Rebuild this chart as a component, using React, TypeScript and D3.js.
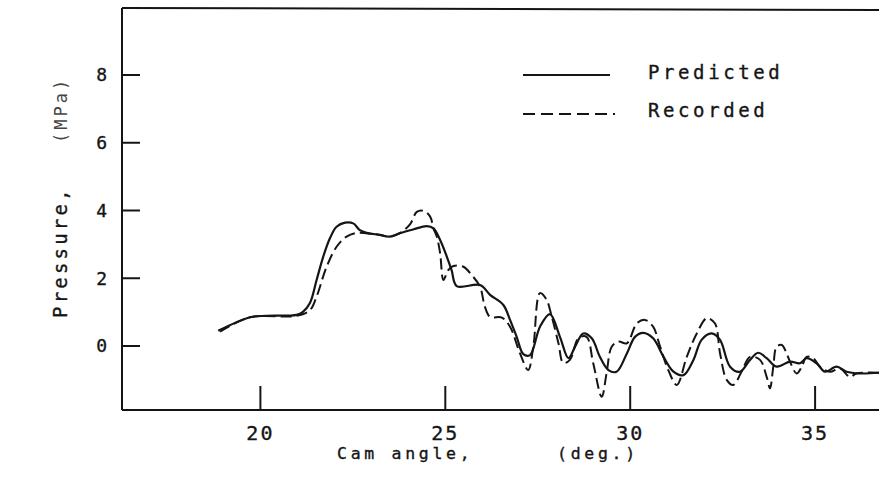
import React from 'react';
import * as d3 from 'd3';

// values
const xTickValues = [20, 25, 30, 35];
const yTickValues = [0, 2, 4, 6, 8];

const predictedAngle = [
  18.86, 19.72, 20.17, 20.98, 21.15, 21.34, 21.52, 21.7, 21.88, 22.06, 22.29, 22.51, 22.69, 22.87,
  23.23, 23.5, 23.77, 24.13, 24.5, 24.68, 24.86, 25.04, 25.17, 25.31, 25.94, 26.21, 26.57, 26.75,
  26.93, 27.11, 27.29, 27.56, 27.83, 28.1, 28.33, 28.51, 28.73, 28.96, 29.18, 29.41, 29.63, 29.91,
  30.13, 30.35, 30.62, 30.9, 31.17, 31.44, 31.71, 31.93, 32.2, 32.43, 32.7, 32.97, 33.24, 33.46,
  33.69, 33.96, 34.32, 34.59, 34.77, 35.04, 35.27, 35.58, 35.85, 36.21, 36.73,
];
const predictedPressure = [
  0.45, 0.85, 0.89, 0.92, 1.01, 1.27, 1.95, 2.64, 3.18, 3.52, 3.64, 3.62, 3.42, 3.34,
  3.28, 3.23, 3.33, 3.44, 3.54, 3.47, 3.13, 2.64, 2.24, 1.77, 1.8, 1.51, 1.21, 0.77,
  0.27, -0.24, -0.27, 0.57, 0.94, 0.27, -0.36, -0.02, 0.37, 0.23, -0.32, -0.71, -0.76, -0.22,
  0.27, 0.39, 0.23, -0.32, -0.76, -0.86, -0.41, 0.18, 0.37, 0.18, -0.61, -0.76, -0.41, -0.2,
  -0.36, -0.61, -0.46, -0.51, -0.36, -0.51, -0.76, -0.61, -0.76, -0.81, -0.79,
];

const recordedAngle = [
  18.91, 19.72, 20.98, 21.34, 21.52, 21.79, 22.06, 22.33, 22.6, 22.87, 23.23, 23.5, 23.77, 24.05,
  24.23, 24.41, 24.59, 24.68, 24.77, 24.86, 24.95, 25.08, 25.22, 25.49, 25.71, 25.94, 26.07, 26.21,
  26.53, 26.75, 27.02, 27.24, 27.38, 27.56, 27.74, 27.88, 28.06, 28.19, 28.37, 28.6, 28.82, 29.0,
  29.23, 29.36, 29.5, 29.68, 29.91, 30.18, 30.4, 30.62, 30.81, 31.03, 31.26, 31.53, 31.8, 32.07,
  32.29, 32.43, 32.61, 32.79, 33.01, 33.24, 33.51, 33.69, 33.78, 33.87, 33.96, 34.1, 34.23, 34.32,
  34.5, 34.64, 34.77, 34.95, 35.13, 35.4, 35.67, 35.94, 36.12, 36.73,
];
const recordedPressure = [
  0.42, 0.85, 0.89, 1.06, 1.46, 2.34, 2.93, 3.23, 3.34, 3.33, 3.28, 3.23, 3.33, 3.6,
  3.96, 3.99, 3.82, 3.47, 3.23, 2.74, 1.95, 2.24, 2.36, 2.34, 2.1, 1.75, 1.16, 0.86,
  0.84, 0.57, -0.22, -0.71, -0.02, 1.56, 1.36, 0.86, 0.08, -0.5, -0.41, 0.23, 0.27, -0.51,
  -1.5, -0.81, -0.02, 0.13, 0.08, 0.67, 0.77, 0.57, -0.02, -0.71, -1.15, -0.32, 0.37, 0.82,
  0.67, -0.22, -1.0, -1.15, -0.76, -0.32, -0.41, -0.91, -1.25, -0.61, -0.02, 0.03, -0.22, -0.46,
  -0.81, -0.61, -0.32, -0.36, -0.61, -0.76, -0.66, -0.91, -0.81, -0.79,
];

const legendLabels = ['Predicted', 'Recorded'];

const ink = '#151515';
const mono = "'DejaVu Sans Mono', 'Liberation Mono', monospace";

export default function App() {
  const width = 879;
  const height = 480;
  // frame of the plot (left axis, top rule, bottom axis)
  const frame = { left: 122, top: 9, bottom: 410, right: 879 };

  const x = d3.scaleLinear().domain([20, 35]).range([260.4, 815.1]);
  const y = d3.scaleLinear().domain([0, 8]).range([346, 75]);

  const line = d3
    .line<[number, number]>()
    .x((d) => x(d[0]))
    .y((d) => y(d[1]))
    .curve(d3.curveCatmullRom.alpha(0.5));

  const predicted = predictedAngle.map((a, i) => [a, predictedPressure[i]] as [number, number]);
  const recorded = recordedAngle.map((a, i) => [a, recordedPressure[i]] as [number, number]);

  return (
    <svg
      width={width}
      height={height}
      style={{ position: 'absolute', left: 0, top: 0, background: '#fff' }}
    >
      <rect width={width} height={height} fill="#fff" />

      {/* frame */}
      <g stroke={ink} strokeWidth={2} fill="none">
        <line x1={frame.left} y1={frame.top - 1} x2={frame.right} y2={frame.top + 1} />
        <line x1={frame.left} y1={frame.top - 1} x2={frame.left} y2={frame.bottom} />
        <line x1={frame.left} y1={frame.bottom} x2={frame.right} y2={frame.bottom} />
      </g>

      {/* y ticks */}
      <g>
        {yTickValues.map((t) => (
          <g key={t} transform={`translate(0, ${y(t)})`}>
            <line x1={frame.left} x2={frame.left + 18} stroke={ink} strokeWidth={2} />
            <text
              x={107}
              dy="0.36em"
              textAnchor="end"
              fontFamily={mono}
              fontSize={18}
              fill={ink}
              stroke={ink}
              strokeWidth={0.35}
            >
              {t}
            </text>
          </g>
        ))}
      </g>

      {/* x ticks */}
      <g>
        {xTickValues.map((t) => (
          <g key={t} transform={`translate(${x(t)}, 0)`}>
            <line y1={frame.bottom} y2={frame.bottom - 24} stroke={ink} strokeWidth={2} />
            <text
              y={440}
              textAnchor="middle"
              fontFamily={mono}
              fontSize={20}
              letterSpacing={2}
              fill={ink}
              stroke={ink}
              strokeWidth={0.35}
            >
              {t}
            </text>
          </g>
        ))}
      </g>

      {/* axis titles */}
      <g fontFamily={mono} fontSize={16.5} letterSpacing={3.7} fill={ink} stroke={ink} strokeWidth={0.35}>
        <text x={337} y={459}>Cam angle,</text>
        <text x={557} y={459}>(deg.)</text>
      </g>
      <g transform="translate(67, 318) rotate(-90)" fontFamily={mono} fill={ink}>
        <text x={0} y={0} fontSize={19} letterSpacing={3.2} stroke={ink} strokeWidth={0.35}>Pressure,</text>
        <text x={175} y={0} fontSize={17} letterSpacing={3} fill="#444">(MPa)</text>
      </g>

      {/* curves */}
      <path d={line(recorded) ?? ''} fill="none" stroke={ink} strokeWidth={2} strokeDasharray="11,5" />
      <path d={line(predicted) ?? ''} fill="none" stroke={ink} strokeWidth={2.2} />

      {/* legend */}
      <g>
        <line x1={523} x2={610} y1={75} y2={75} stroke={ink} strokeWidth={2} />
        <line x1={523} x2={615} y1={114} y2={114} stroke={ink} strokeWidth={2} strokeDasharray="12,6" />
        <g fontFamily={mono} fontSize={19} letterSpacing={3.6} fill={ink} stroke={ink} strokeWidth={0.35}>
          <text x={648} y={79}>{legendLabels[0]}</text>
          <text x={648} y={117}>{legendLabels[1]}</text>
        </g>
      </g>
    </svg>
  );
}
